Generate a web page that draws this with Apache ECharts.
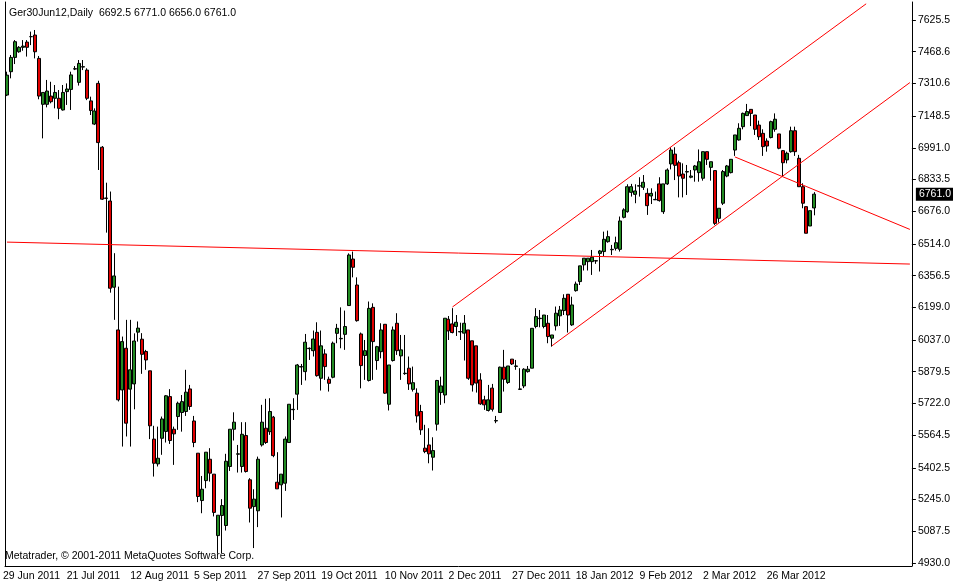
<!DOCTYPE html>
<html><head><meta charset="utf-8">
<script src="https://cdn.jsdelivr.net/npm/echarts@6/dist/echarts.min.js"></script>
<style>html,body{margin:0;padding:0;background:#fff}#c{width:953px;height:583px}</style>
</head><body><div id="c"></div>
<script>
const opens=[7253,7369,7440,7468,7490,7516,7543,7551,7435,7207,
7207,7248,7237,7237,7179,7270,7281,7382,7316,7392,
7377,7224,7109,7311,6994,6742,6727,6299,6087,5789,
5996,5793,5819,6076,6041,5980,5884,5545,5422,5549,
5583,5756,5594,5657,5677,5682,5794,5635,5475,5240,
5339,5445,5371,5066,5166,5116,5409,5594,5470,5409,
5563,5343,5210,5189,5516,5599,5582,5654,5331,5318,
5326,5528,5691,5768,5903,5880,5994,5984,6075,5847,
5968,5842,5852,6070,6043,6065,6208,6439,6310,6067,
5960,5836,6199,5935,5979,6115,5718,5935,6120,5958,
5870,5897,5792,5773,5682,5500,5516,5455,5619,5776,
5764,6140,6117,6104,6077,6071,6087,6033,6008,5839,
5740,5687,5798,5635,5677,5902,5826,5942,5906,5792,
5809,5880,5897,6104,6143,6104,6120,6046,6107,6157,
6183,6264,6112,6282,6327,6410,6426,6426,6431,6467,
6476,6525,6485,6492,6487,6646,6674,6770,6760,6801,
6795,6765,6752,6733,6812,6674,6812,6911,6960,6917,
6861,6871,6845,6881,6868,6840,6972,6894,6878,6641,
6716,6851,6868,6980,7030,7096,7151,7182,7154,7104,
7063,7025,7042,7083,7060,6977,6931,6972,7076,6939,
6798,6699,6603,6692.5];
const highs=[7369,7452,7526,7496,7526,7526,7568,7576,7447,7266,
7328,7319,7303,7278,7303,7311,7369,7397,7427,7427,
7386,7245,7187,7324,7000,6818,6774,6468,6302,6054,
6137,6137,6070,6129,6071,5988,5884,5611,5607,5657,
5764,5793,5607,5731,5764,5889,5814,5660,5475,5362,
5480,5500,5371,5167,5247,5472,5594,5678,5516,5629,
5629,5351,5296,5458,5715,5745,5748,5660,5480,5371,
5558,5718,5748,5918,5918,6067,6000,6084,6125,6084,
5991,5855,6029,6117,6199,6183,6467,6476,6348,6074,
6037,6228,6219,6008,6120,6115,5913,6104,6170,6062,
6062,5955,5905,5797,5715,5616,5599,5554,5839,5855,
6145,6156,6195,6161,6123,6161,6087,6033,6008,5872,
5760,5814,5819,5660,5905,5988,5908,5942,5938,5897,
5897,5908,6095,6195,6186,6161,6161,6062,6203,6206,
6264,6264,6252,6327,6405,6443,6443,6484,6434,6484,
6575,6580,6509,6550,6650,6691,6810,6812,6810,6845,
6856,6790,6790,6774,6845,6812,6889,6994,6994,6927,
6914,6906,6881,6906,6983,6972,6972,6922,6878,6691,
6881,6906,6934,7055,7113,7166,7209,7182,7154,7126,
7083,7038,7126,7162,7060,6980,6972,7096,7096,6956,
6815,6699,6679,6771];
const lows=[7248,7336,7407,7463,7473,7444,7501,7435,7232,7038,
7192,7212,7187,7133,7176,7204,7179,7377,7300,7377,
7228,7154,7104,6881,6732,6570,6272,6137,5732,5508,
5558,5508,5693,6029,5869,5889,5545,5359,5409,5467,
5528,5521,5417,5591,5582,5660,5690,5505,5232,5177,
5301,5334,5161,4979,4979,5091,5387,5538,5379,5379,
5379,5131,5004,5108,5508,5521,5566,5455,5298,5156,
5288,5528,5640,5690,5814,5836,5938,5955,5855,5786,
5839,5781,5847,6021,5996,5988,6206,6348,6128,5797,
5839,5831,5839,5889,5946,5769,5687,5930,5963,5839,
5864,5789,5781,5627,5566,5475,5425,5389,5587,5715,
5723,6037,6070,6057,6037,5935,5839,5781,5776,5715,
5690,5682,5682,5624,5677,5781,5819,5913,5889,5789,
5798,5875,5897,6095,6100,6095,6021,6004,6084,6107,
6161,6074,6107,6277,6310,6382,6382,6360,6415,6377,
6454,6520,6459,6481,6476,6641,6669,6749,6716,6749,
6782,6658,6712,6732,6724,6663,6807,6884,6831,6745,
6745,6757,6840,6823,6823,6828,6906,6828,6608,6620,
6707,6845,6864,6951,7027,7083,7149,7099,7055,7030,
6951,6972,7038,7071,6984,6851,6914,6967,6951,6798,
6691,6567,6603,6656];
const closes=[7352,7440,7518,7490,7496,7490,7543,7468,7248,7266,
7273,7220,7266,7187,7266,7283,7353,7384,7410,7394,
7237,7176,7174,7017,6736,6740,6294,6355,5740,6029,
5624,5889,6032,6096,5966,5938,5611,5425,5450,5645,
5760,5538,5571,5723,5731,5778,5707,5528,5260,5296,
5480,5376,5181,5167,5215,5435,5594,5629,5472,5569,
5384,5202,5247,5445,5629,5528,5682,5463,5298,5371,
5545,5718,5693,5913,5905,6026,5996,6042,5860,6008,
5905,5822,6021,6095,6045,6104,6459,6398,6133,5910,
5984,6194,6029,6004,6087,5773,5913,6087,5984,5988,
5872,5819,5825,5660,5591,5483,5472,5488,5836,5809,
6145,6082,6074,6125,6079,6120,5847,5814,5823,5720,
5715,5740,5693,5637,5902,5842,5908,5918,5908,5794,
5892,5892,6095,6153,6145,6161,6054,6062,6170,6186,
6244,6161,6211,6315,6405,6443,6443,6448,6429,6479,
6537,6550,6487,6520,6628,6683,6798,6798,6777,6803,
6820,6704,6765,6735,6729,6812,6881,6980,6904,6851,
6840,6873,6851,6901,6922,6972,6934,6922,6616,6691,
6873,6901,6934,7055,7088,7162,7171,7162,7083,7046,
6997,7000,7121,7133,6989,6917,6964,7076,6972,6798,
6716,6567,6679,6761];
const yTicks=[4930.0,5087.5,5245.0,5402.5,5564.5,5722.0,5879.5,6037.0,6199.0,6356.5,6514.0,6676.0,6833.5,6991.0,7148.5,7310.6,7468.6,7625.5];
const startDate='2011-06-29', skipDates=['2011-12-26'], totalSlots=228;
const trendLines=[[[0,6523],[227,6414]],[[112,6201],[216,7706]],[[137,6008],[227,7315]],[[183,6946],[227,6586]]];
const lastPrice=6761.0;

const mon=['Jan','Feb','Mar','Apr','May','Jun','Jul','Aug','Sep','Oct','Nov','Dec'];
const cats=[];let d=new Date(startDate+'T12:00:00Z');
while(cats.length<opens.length){const iso=d.toISOString().slice(0,10);const wd=d.getUTCDay();
 if(wd!==0&&wd!==6&&!skipDates.includes(iso))cats.push(d.getUTCDate()+' '+mon[d.getUTCMonth()]+' '+d.getUTCFullYear());
 d.setUTCDate(d.getUTCDate()+1);}
while(cats.length<totalSlots)cats.push('');
const data=opens.map((o,i)=>[o,closes[i],lows[i],highs[i]]);
const font='"Liberation Sans"';
const showIdx=i=>i%16===0&&cats[i]!=='';
const chart=echarts.init(document.getElementById('c'));
chart.setOption({animation:false,backgroundColor:'#fff',
 title:{text:'Ger30Jun12,Daily  6692.5 6771.0 6656.0 6761.0',left:4,top:3,textStyle:{fontFamily:font,fontSize:10.5,fontWeight:'normal',color:'#000'}},
 graphic:[{type:'text',left:5,top:551,style:{text:'Metatrader, © 2001-2011 MetaQuotes Software Corp.',font:'10.5px "Liberation Sans"',fill:'#000'}}],
 grid:{left:2,right:38,top:2,bottom:17},
 xAxis:{type:'category',data:cats,boundaryGap:true,
  axisLine:{lineStyle:{color:'#000'}},
  axisTick:{interval:(i)=>showIdx(i),length:4,lineStyle:{color:'#000'}},
  axisLabel:{interval:(i)=>showIdx(i),align:'left',margin:5,fontFamily:font,fontSize:10.5,color:'#000',padding:[0,0,0,-4]},
  splitLine:{show:false}},
 yAxis:[{type:'value',position:'right',min:4915,max:7715,
  axisLine:{show:true,lineStyle:{color:'#000'}},
  axisTick:{show:true,customValues:yTicks,length:4,lineStyle:{color:'#000'}},
  axisLabel:{customValues:yTicks,formatter:v=>v.toFixed(1),fontFamily:font,fontSize:10.5,color:'#000',margin:6},
  splitLine:{show:false}},
  {type:'value',position:'left',min:4915,max:7715,axisLine:{show:true,lineStyle:{color:'#000'}},axisTick:{show:false},axisLabel:{show:false},splitLine:{show:false}}],
 series:[{type:'candlestick',data:data,barWidth:3.5,
  itemStyle:{color:'#228b22',color0:'#e00000',borderColor:'#000',borderColor0:'#000',borderWidth:1},
  markLine:{silent:true,symbol:'none',animation:false,
   data:[...trendLines.map(l=>[{coord:l[0],lineStyle:{color:'#ff0000',width:1,type:'solid'},label:{show:false}},{coord:l[1]}]),
    {yAxis:lastPrice,lineStyle:{color:'rgba(0,0,0,0)'},label:{show:true,position:'end',formatter:lastPrice.toFixed(1),backgroundColor:'#000',color:'#fff',fontFamily:font,fontSize:10.5,padding:[1,3],distance:4}}]}}]
});
</script></body></html>
